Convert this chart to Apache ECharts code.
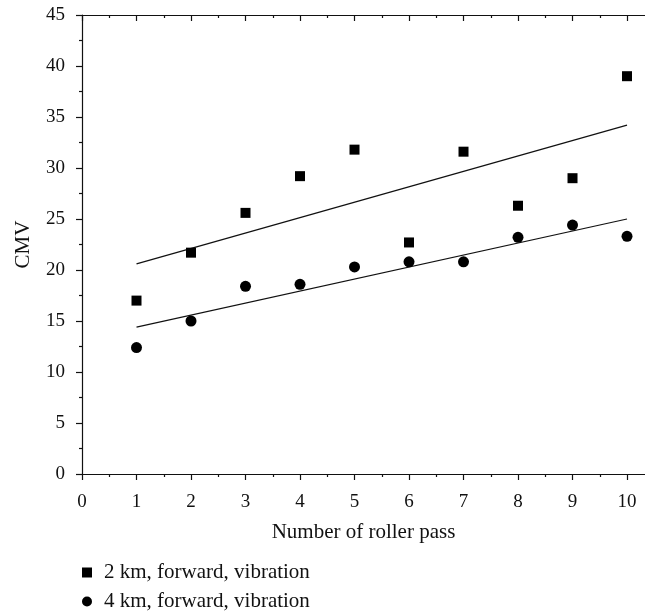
<!DOCTYPE html>
<html>
<head>
<meta charset="utf-8">
<title>CMV vs roller pass</title>
<script src="https://cdn.jsdelivr.net/npm/echarts@6/dist/echarts.min.js"></script>
<style>
  html, body { margin: 0; padding: 0; background: #fff; }
  #chart { width: 645px; height: 615px; }
</style>
</head>
<body>
<div id="chart"></div>
<script>
// 数据
const passes = [1, 2, 3, 4, 5, 6, 7, 8, 9, 10]
const cmv2km = [17.0, 21.7, 25.6, 29.2, 31.8, 22.7, 31.6, 26.3, 29.0, 39.0]
const cmv4km = [12.4, 15.0, 18.4, 18.6, 20.3, 20.8, 20.8, 23.2, 24.4, 23.3]
// 拟合直线端点 (x = 1 和 x = 10)
const fitX = [1, 10]
const fit2km = [20.6, 34.2]
const fit4km = [14.4, 25.0]
const xTicks = [0, 1, 2, 3, 4, 5, 6, 7, 8, 9, 10]
const xMinorTicks = [0.5, 1.5, 2.5, 3.5, 4.5, 5.5, 6.5, 7.5, 8.5, 9.5]
const seriesNames = ['2 km, forward, vibration', '4 km, forward, vibration']

const font = 'Liberation Serif'
const black = '#111'
const tickFontSize = 19
const textFontSize = 21

const chart = echarts.init(document.getElementById('chart'))

function pairs (xs, ys) {
  return xs.map((x, i) => [x, ys[i]])
}

// x轴：主刻度 + 次刻度，上下各一条
function xAxisOf (position, values, length, inside, withLabel) {
  return {
    type: 'value',
    position: position,
    min: 0,
    max: 10.33,
    axisLine: { show: true, onZero: false, lineStyle: { color: black, width: 1.2 } },
    axisTick: {
      show: true,
      inside: inside,
      length: length,
      customValues: values,
      lineStyle: { color: black, width: 1.2 }
    },
    axisLabel: withLabel
      ? { show: true, customValues: values, margin: 19, color: black, fontFamily: font, fontSize: tickFontSize }
      : { show: false },
    splitLine: { show: false }
  }
}

const option = {
  animation: false,
  backgroundColor: '#fff',
  grid: {
    left: 82,
    right: 0,
    top: 15,
    bottom: 141
  },
  legend: {
    data: seriesNames,
    orient: 'vertical',
    left: 82,
    top: 562,
    padding: 0,
    height: 60,
    itemWidth: 10,
    itemHeight: 10,
    itemGap: 8,
    textStyle: { color: black, fontFamily: font, fontSize: textFontSize, padding: [0, 0, 0, 7] }
  },
  xAxis: [
    Object.assign(xAxisOf('bottom', xTicks, 6, false, true), {
      name: 'Number of roller pass',
      nameLocation: 'middle',
      nameGap: 48,
      nameTextStyle: { color: black, fontFamily: font, fontSize: textFontSize }
    }),
    Object.assign(xAxisOf('bottom', xMinorTicks, 3, false, false), { axisLine: { show: false } }),
    xAxisOf('top', xTicks, 6, true, false),
    Object.assign(xAxisOf('top', xMinorTicks, 3, true, false), { axisLine: { show: false } })
  ],
  yAxis: {
    type: 'value',
    min: 0,
    max: 45,
    interval: 5,
    name: 'CMV',
    nameLocation: 'middle',
    nameGap: 48,
    nameTextStyle: { color: black, fontFamily: font, fontSize: textFontSize },
    axisLine: { show: true, lineStyle: { color: black, width: 1.2 } },
    axisTick: { show: true, length: 6, lineStyle: { color: black, width: 1.2 } },
    minorTick: { show: true, splitNumber: 2, length: 3, lineStyle: { color: black, width: 1.2 } },
    axisLabel: { margin: 17, color: black, fontFamily: font, fontSize: tickFontSize },
    splitLine: { show: false }
  },
  series: [
    {
      name: seriesNames[0],
      type: 'scatter',
      symbol: 'rect',
      symbolSize: 10,
      itemStyle: { color: '#000', opacity: 1 },
      data: pairs(passes, cmv2km),
      z: 3
    },
    {
      name: seriesNames[1],
      type: 'scatter',
      symbol: 'circle',
      symbolSize: 11,
      itemStyle: { color: '#000', opacity: 1 },
      data: pairs(passes, cmv4km),
      z: 3
    },
    {
      name: 'fit 2 km',
      type: 'line',
      showSymbol: false,
      symbol: 'none',
      lineStyle: { color: black, width: 1.2 },
      data: pairs(fitX, fit2km)
    },
    {
      name: 'fit 4 km',
      type: 'line',
      showSymbol: false,
      symbol: 'none',
      lineStyle: { color: black, width: 1.2 },
      data: pairs(fitX, fit4km)
    }
  ]
}

chart.setOption(option)
</script>
</body>
</html>
